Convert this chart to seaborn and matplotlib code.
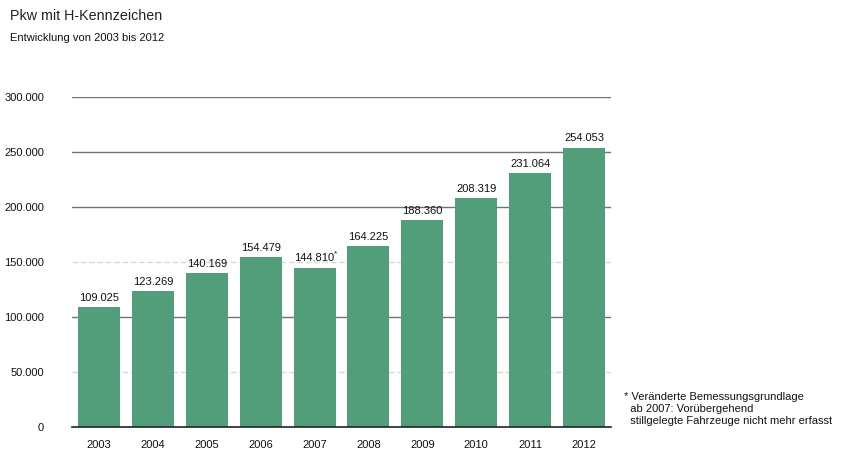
import matplotlib
matplotlib.use("Agg")
import matplotlib.pyplot as plt
import seaborn as sns
import pandas as pd

years = ["2003", "2004", "2005", "2006", "2007", "2008", "2009", "2010", "2011", "2012"]
values = [109025, 123269, 140169, 154479, 144810, 164225, 188360, 208319, 231064, 254053]
label_suffix = ["", "", "", "", "*", "", "", "", "", ""]
yticks = [0, 50000, 100000, 150000, 200000, 250000, 300000]

title = "Pkw mit H-Kennzeichen"
subtitle = "Entwicklung von 2003 bis 2012"
footnote = "* Veränderte Bemessungsgrundlage\n  ab 2007: Vorübergehend\n  stillgelegte Fahrzeuge nicht mehr erfasst"

def de_fmt(v):
    return f"{v:,.0f}".replace(",", ".")

sns.set_theme(style="white")
plt.rcParams["font.family"] = ["Liberation Sans", "DejaVu Sans"]

df = pd.DataFrame({"year": years, "value": values})

fig = plt.figure(figsize=(8.47, 4.65), dpi=100)
ax = fig.add_axes([0.085, 0.0817, 0.6364, 0.7093])

# gridlines
for t in yticks[1:]:
    if t in (50000, 150000):
        ax.axhline(t, color="#d8d8d8", lw=1.0, ls=(0, (4, 2)), zorder=0)
    else:
        ax.axhline(t, color="#6e737a", lw=1.0, zorder=0)

sns.barplot(data=df, x="year", y="value", color="#529E7B", saturation=1,
            width=0.78, ax=ax, zorder=2, linewidth=0, edgecolor="none")

ax.set_xlim(-0.5, 9.5)
ax.set_ylim(0, 300000)
ax.set_yticks(yticks)
ax.set_yticklabels([de_fmt(t) for t in yticks])
ax.set_xlabel("")
ax.set_ylabel("")
for s in ["top", "right", "left"]:
    ax.spines[s].set_visible(False)
ax.spines["bottom"].set_color("#222222")
ax.spines["bottom"].set_linewidth(1.2)
ax.spines["bottom"].set_zorder(3)
ax.tick_params(axis="y", length=0, pad=20, labelsize=8, colors="#111111")
ax.tick_params(axis="x", length=0, pad=9, labelsize=8, colors="#111111")

for i, (v, suf) in enumerate(zip(values, label_suffix)):
    ax.text(i, v + 4000, de_fmt(v), ha="center", va="bottom", fontsize=8, color="#111111")
    if suf:
        ax.text(i + 0.36, v + 9500, suf, ha="left", va="bottom", fontsize=6, color="#111111")

fig.text(10 / 847, 1 - 16 / 465, title, fontsize=10.3, color="#222222", va="center", ha="left")
fig.text(10 / 847, 1 - 38 / 465, subtitle, fontsize=8, color="#111111", va="center", ha="left")
fig.text(624 / 847, 1 - 409 / 465, footnote, fontsize=8, color="#111111", va="center", ha="left",
         linespacing=1.25)

fig.savefig("out.png", dpi=100)
